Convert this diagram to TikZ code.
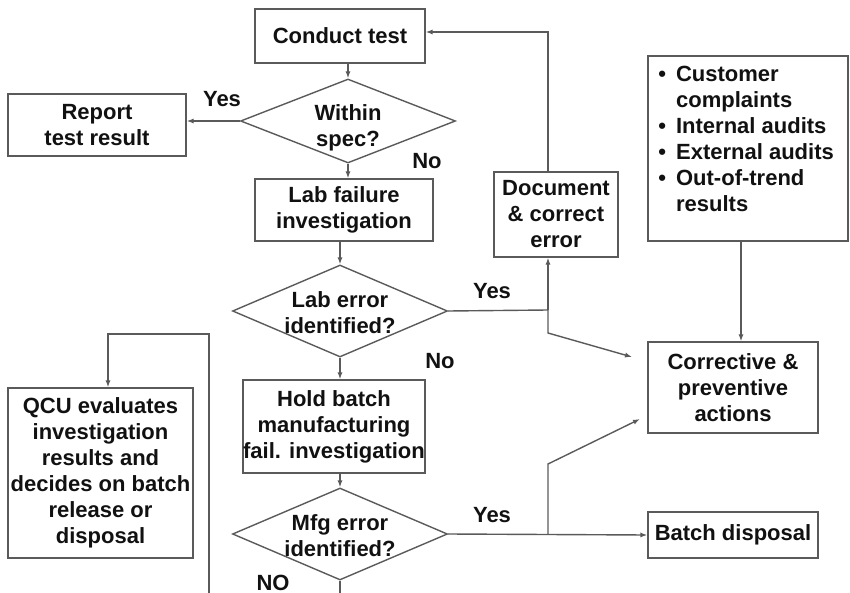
\documentclass[tikz,border=0pt]{standalone}
\usepackage{fontspec}
\setmainfont{Liberation Sans}
\usetikzlibrary{shapes.geometric,arrows.meta}
\definecolor{linegray}{HTML}{5A5A5A}
\definecolor{ink}{HTML}{111111}
\begin{document}
\begin{tikzpicture}[x=0.5pt,y=-0.5pt,
  txt/.style={font=\fontsize{11}{13}\selectfont\bfseries,text=ink,align=center,inner sep=0pt},
  box/.style={txt,draw=linegray,line width=0.7pt,rectangle},
  dia/.style={draw=linegray,line width=0.7pt,shape=diamond,inner sep=0pt,minimum width=107.5pt,minimum height=46pt},
  conn/.style={draw=linegray,line width=0.7pt},
  arr/.style={conn,-{Latex[length=3.5pt,width=2.6pt]}}]
\useasboundingbox (0,0) rectangle (850,593);

% process boxes
\node[box,minimum width=85pt,minimum height=27pt] (conduct) at (340,36) {Conduct test};
\node[box,minimum width=89pt,minimum height=31pt] (report) at (97,125) {Report\\test result};
\node[box,minimum width=89pt,minimum height=31pt] (labfail) at (344,210) {Lab failure\\investigation};
\node[box,minimum width=62pt,minimum height=42.5pt] (doc) at (556,214.5) {Document\\\& correct\\error};
\node[box,minimum width=100pt,minimum height=92.5pt] (src) at (748,148.5) {};
\node[txt,anchor=north west,align=left] (srclist) at (658,63) {%
  \begin{tabular}{@{}l@{\hspace{5pt}}l@{}}
  • & Customer\\ & complaints\\
  • & Internal audits\\
  • & External audits\\
  • & Out-of-trend\\ & results
  \end{tabular}};
\node[box,minimum width=85pt,minimum height=45.5pt] (corr) at (733,387.5) {Corrective \&\\preventive\\actions};
\node[box,minimum width=89pt,minimum height=46.5pt] (hold) at (334,426.5) {Hold batch\\manufacturing\\fail. investigation};
\node[box,minimum width=85pt,minimum height=23pt] (batch) at (733,535) {Batch disposal};
\node[box,minimum width=92.5pt,minimum height=85pt] (qcu) at (100.5,473) {QCU evaluates\\investigation\\results and\\decides on batch\\release or\\disposal};

% decisions
\node[dia,minimum height=42pt] (within) at (348,121) {};
\node[txt] (withinT) at (348,128) {Within\\spec?};
\node[dia] (laberr) at (340,311) {};
\node[txt] (laberrT) at (340,313) {Lab error\\identified?};
\node[dia] (mfg) at (340,534) {};
\node[txt] (mfgT) at (340,536) {Mfg error\\identified?};

% branch labels
\node[txt] (y1) at (222,99) {Yes};
\node[txt] (n1) at (427,161) {No};
\node[txt] (y2) at (492,291) {Yes};
\node[txt] (n2) at (440,361) {No};
\node[txt] (y3) at (492,515) {Yes};
\node[txt] (n3) at (273,583) {NO};

% junctions and free ends
\coordinate (j1) at (548,310);
\coordinate (j1b) at (548,333);
\coordinate (corrIn1) at (632,357);
\coordinate (j2) at (548,534);
\coordinate (j2b) at (548,464);
\coordinate (corrIn2) at (640,419);
\coordinate (mfgOut) at (340,593);
\coordinate (loopBot) at (209,593);
\coordinate (loopTop) at (209,334);
\coordinate (loopL) at (108,334);

% main flow
\draw[arr] (conduct.south -| within.north) -- (within.north);
\draw[arr] (within.west) -- (within.west -| report.east);
\draw[arr] (within.south) -- (within.south |- labfail.north);
\draw[arr] (labfail.south -| laberr.north) -- (laberr.north);
\draw[arr] (laberr.south) -- (laberr.south |- hold.north);
\draw[arr] (hold.south -| mfg.north) -- (mfg.north);
\draw[conn] (mfg.south) -- (mfgOut);

% lab error branch
\draw[conn] (laberr.east) -- (j1);
\draw[arr] (j1) -- (j1 |- doc.south);
\draw[arr] (doc.north -| j1) -- (548,32) -- (conduct.east |- 0,32);
\draw[arr] (j1) -- (j1b) -- (corrIn1);

% manufacturing error branch
\draw[arr] (mfg.east) -- (batch.west);
\draw[arr] (j2) -- (j2b) -- (corrIn2);

% sources feeding corrective actions
\draw[arr] ([xshift=-3.5pt]src.south) -- ([xshift=-3.5pt]src.south |- corr.north);

% loop back to QCU
\draw[arr] (loopBot) -- (loopTop) -- (loopL) -- (loopL |- qcu.north);
\end{tikzpicture}
\end{document}
